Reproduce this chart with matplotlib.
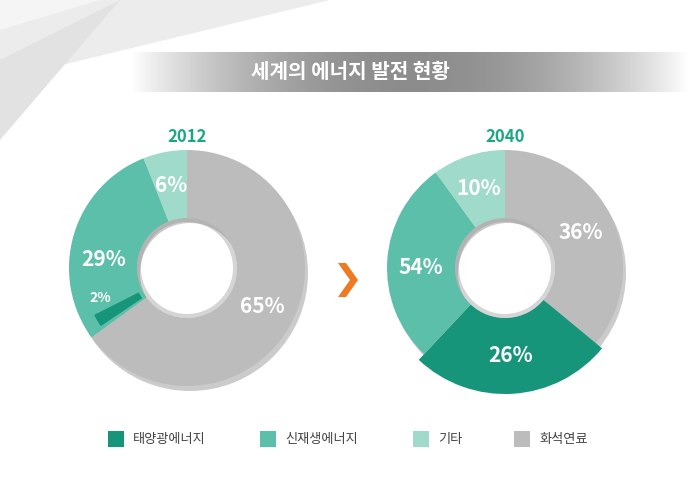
import numpy as np
import matplotlib.pyplot as plt
from matplotlib.patches import Wedge, Rectangle, Polygon

plt.rcParams['font.family'] = ['Noto Sans CJK KR', 'Noto Sans CJK JP', 'Noto Sans CJK SC', 'DejaVu Sans']

title = '세계의 에너지 발전 현황'
years = ['2012', '2040']
categories = ['태양광에너지', '신재생에너지', '기타', '화석연료']
colors = ['#17957a', '#5bbfa9', '#a0dacb', '#bcbcbc']
vals_2012 = {'화석연료': 65, '태양광에너지': 2, '신재생에너지': 29, '기타': 6}
vals_2040 = {'화석연료': 36, '태양광에너지': 26, '신재생에너지': 28, '기타': 10}
labels_2012 = {'화석연료': '65%', '태양광에너지': '2%', '신재생에너지': '29%', '기타': '6%'}
labels_2040 = {'화석연료': '36%', '태양광에너지': '26%', '신재생에너지': '54%', '기타': '10%'}

fig = plt.figure(figsize=(7, 5), dpi=100)
ax = fig.add_axes([0, 0, 1, 1])
ax.set_xlim(0, 700)
ax.set_ylim(0, 500)
ax.axis('off')

for pts, c in [([(0, 500), (330, 500), (0, 420)], '#ececec'),
               ([(0, 440), (120, 500), (0, 360)], '#e2e2e2'),
               ([(0, 500), (100, 500), (0, 470)], '#f5f5f5')]:
    ax.add_patch(Polygon(pts, closed=True, color=c, lw=0, zorder=0))

grad = np.linspace(-1, 1, 256)
img = np.zeros((1, 256, 4))
img[..., :3] = 0.55
img[..., 3] = np.clip(1 - np.abs(grad) ** 2, 0, 1)
ax.imshow(img, extent=(130, 690, 408, 448), aspect='auto', zorder=1)
ax.text(350, 428, title, color='white', fontsize=14.5, fontweight='bold', ha='center', va='center', zorder=2)

ccol = dict(zip(categories, colors))


def donut(cx, cy, vals, labs, year, r=118, w=68):
    cy = 500 - cy
    ax.text(cx, 500 - 137, year, color='#1aa884', fontsize=12, fontweight='bold', ha='center', va='center')
    ax.add_patch(Wedge((cx + 3, cy - 5), r, 0, 360, width=w, color='#999999', alpha=0.5, lw=0, zorder=1))
    small = vals['태양광에너지'] < 5
    order = ['화석연료', '신재생에너지', '기타'] if small else ['화석연료', '태양광에너지', '신재생에너지', '기타']
    start = 90
    gray_end = None
    for k in order:
        ext = vals[k] * 3.6
        t1, t2 = start - ext, start
        rr, ww = r, w
        if k == '태양광에너지':
            rr, ww = r + 8, w + 8
        if k == '화석연료':
            gray_end = t1
        ax.add_patch(Wedge((cx, cy), rr, t1, t2, width=ww, color=ccol[k], lw=0, zorder=2))
        mid = np.deg2rad((t1 + t2) / 2)
        if k == '신재생에너지':
            mid = np.deg2rad(180 if year == '2040' else 174)
        lr = rr - ww / 2
        ax.text(cx + lr * np.cos(mid), cy + lr * np.sin(mid), labs[k], color='white',
                fontsize=15, fontweight='bold', ha='center', va='center', zorder=3)
        start = t1
    if small:
        ext = vals['태양광에너지'] * 3.6
        ax.add_patch(Wedge((cx, cy), 104, gray_end - ext - 2, gray_end - 2, width=50,
                           color=ccol['태양광에너지'], lw=0, zorder=3))
        mid = np.deg2rad(gray_end - ext - 10)
        ax.text(cx + 92 * np.cos(mid), cy + 92 * np.sin(mid), labs['태양광에너지'], color='white',
                fontsize=10, fontweight='bold', ha='center', va='center', zorder=3)
    ax.add_patch(Wedge((cx, cy), r - w, 0, 360, width=4, color='#888888', alpha=0.35, lw=0, zorder=2))


donut(187, 268, vals_2012, labels_2012, years[0])
donut(505, 268, vals_2040, labels_2040, years[1])

ax.add_patch(Polygon([(338, 237), (346, 237), (358, 220), (346, 203),
                      (338, 203), (350, 220)], closed=True, color='#f07a22', lw=0))

lx = [116, 268, 421, 522]
for x, name, c in zip(lx, categories, colors):
    ax.add_patch(Rectangle((x - 8, 53), 16, 16, color=c, lw=0))
    ax.text(x + 17, 61, name, fontsize=9.5, color='#444444', va='center', ha='left')

fig.savefig('out.png', dpi=100)
